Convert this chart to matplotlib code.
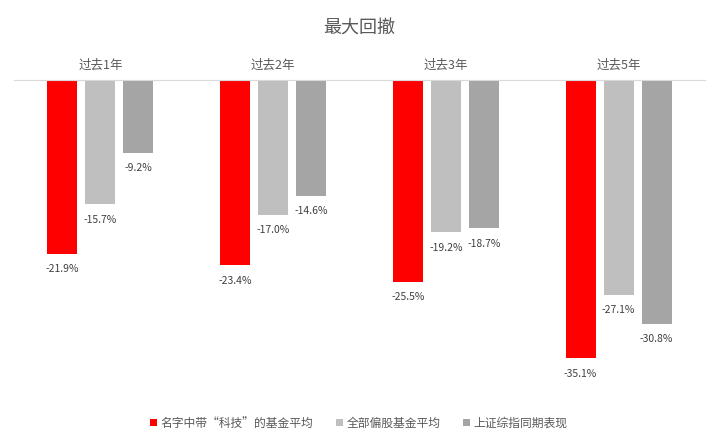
import numpy as np
import matplotlib
matplotlib.use('Agg')
import matplotlib.pyplot as plt

plt.rcParams['font.family'] = ['Noto Sans CJK SC', 'DejaVu Sans']

periods = ['过去1年', '过去2年', '过去3年', '过去5年']
series_names = ['名字中带“科技”的基金平均', '全部偏股基金平均', '上证综指同期表现']
tech_fund = [-21.9, -23.4, -25.5, -35.1]
all_equity = [-15.7, -17.0, -19.2, -27.1]
sh_index = [-9.2, -14.6, -18.7, -30.8]
colors = ['#FF0000', '#BFBFBF', '#A5A5A5']

fig = plt.figure(figsize=(7.18, 4.42), dpi=100)
ax = fig.add_axes([14 / 718, 0.102, 691 / 718, 0.717])

x = np.arange(len(periods))
w = 0.174
step = 0.22
for i, (vals, c, name) in enumerate(zip([tech_fund, all_equity, sh_index], colors, series_names)):
    pos = x + (i - 1) * step
    ax.bar(pos, vals, width=w, color=c, label=name)
    for p, v in zip(pos, vals):
        ax.annotate(f'{v:.1f}%', (p, v), xytext=(0, -7.5), textcoords='offset points',
                    ha='center', va='top', fontsize=7.5, color='#404040')

ax.set_xlim(-0.5, len(periods) - 0.5)
ax.set_ylim(-40, 0)
for s in ['left', 'right', 'bottom']:
    ax.spines[s].set_visible(False)
ax.spines['top'].set_color('#D9D9D9')
ax.set_yticks([])
ax.xaxis.tick_top()
ax.set_xticks(x)
ax.set_xticklabels(periods, fontsize=9, color='#595959')
ax.tick_params(axis='x', length=0, pad=6)

fig.text(0.5, 0.935, '最大回撤', ha='center', va='center', fontsize=13, color='#595959')

fig.legend(loc='center', bbox_to_anchor=(0.5, 0.043), ncol=3, frameon=False,
           fontsize=8.5, handlelength=0.6, handleheight=0.6, handletextpad=0.3,
           columnspacing=1.9, labelcolor='#595959')

fig.savefig('out.png', dpi=100)
